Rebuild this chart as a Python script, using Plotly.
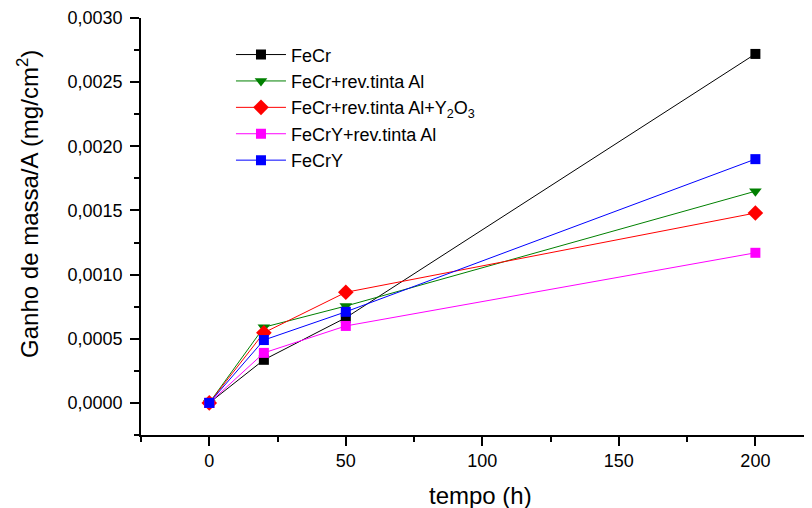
import plotly.graph_objects as go

tempo = [0, 20, 50, 200]
fecr = [0.0, 0.000336, 0.000664, 0.00272]
fecr_tinta = [0.0, 0.000590, 0.000755, 0.00165]
fecr_tinta_y2o3 = [0.0, 0.000547, 0.000862, 0.00148]
fecry_tinta = [0.0, 0.000390, 0.000600, 0.00117]
fecry = [0.0, 0.000490, 0.000710, 0.00190]

x_ticks = [0, 50, 100, 150, 200]
y_ticks = [0, 0.0005, 0.001, 0.0015, 0.002, 0.0025, 0.003]

series = [
    ("FeCr", fecr, "black", "square", 10),
    ("FeCr+rev.tinta Al", fecr_tinta, "green", "triangle-down", 11),
    ("FeCr+rev.tinta Al+Y<sub>2</sub>O<sub>3</sub>", fecr_tinta_y2o3, "red", "diamond", 12),
    ("FeCrY+rev.tinta Al", fecry_tinta, "magenta", "square", 10),
    ("FeCrY", fecry, "blue", "square", 10),
]

fig = go.Figure()
for name, vals, col, sym, sz in series:
    fig.add_trace(go.Scatter(
        x=tempo, y=vals, name=name, mode="lines+markers",
        line=dict(color=col, width=1),
        marker=dict(color=col, symbol=sym, size=sz, line=dict(width=0)),
    ))

font = "Liberation Sans"
# page body has an 8px default margin, so the figure is 8px smaller
fig.update_layout(
    width=804, height=500,
    margin=dict(l=133, r=2, t=10, b=73, autoexpand=False),
    plot_bgcolor="white", paper_bgcolor="white",
    separators=",.",
    font=dict(family=font, size=18, color="black"),
    showlegend=True,
    legend=dict(x=0.1345, y=0.956, xanchor="left", yanchor="top",
                bgcolor="rgba(0,0,0,0)", font=dict(size=18),
                itemwidth=50),
    xaxis=dict(
        range=[-25, 220], tickvals=x_ticks, automargin=False,
        showline=True, linecolor="black", linewidth=1.5, mirror=False,
        showgrid=False, zeroline=False,
        ticks="outside", ticklen=9, tickcolor="black", tickwidth=1.5,
        ticklabelstandoff=0,
        minor=dict(tickvals=[-25, 25, 75, 125, 175], ticks="outside", ticklen=5, tickcolor="black", tickwidth=1.5),
        tickfont=dict(size=18),
    ),
    yaxis=dict(
        range=[-0.00025, 0.0030], tickvals=y_ticks, automargin=False,
        tickformat=".4f",
        showline=True, linecolor="black", linewidth=1.5, mirror=False,
        showgrid=False, zeroline=False,
        ticks="outside", ticklen=9, tickcolor="black", tickwidth=1.5,
        ticklabelstandoff=4,
        minor=dict(tickvals=[-0.00025, 0.00025, 0.00075, 0.00125, 0.00175, 0.00225, 0.00275], ticks="outside", ticklen=5, tickcolor="black", tickwidth=1.5),
        tickfont=dict(size=18),
    ),
    annotations=[
        dict(
            text="Ganho de massa/A (mg/cm<sup>2</sup>)",
            xref="paper", yref="paper", x=-0.169, y=0.554,
            xanchor="center", yanchor="middle", textangle=-90,
            showarrow=False, font=dict(size=24, family=font),
        ),
        dict(
            text="tempo (h)",
            xref="paper", yref="paper", x=0.508, y=-0.144,
            xanchor="center", yanchor="middle",
            showarrow=False, font=dict(size=24, family=font),
        ),
    ],
)

fig.write_html("out.html")
